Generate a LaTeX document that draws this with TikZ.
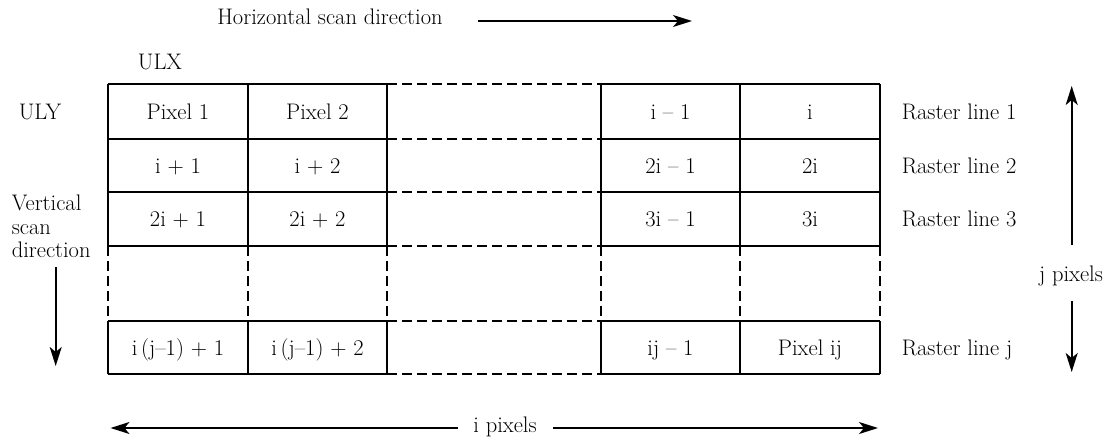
\documentclass[tikz,border=0pt]{standalone}
\usetikzlibrary{arrows.meta}
\begin{document}
\begin{tikzpicture}[x=1pt,y=-1pt, line width=1.6pt,
  every node/.style={font=\fontsize{22.5}{23.5}\selectfont, inner sep=0pt},
  cell/.style={anchor=base},
  lbl/.style={anchor=base west},
  dashline/.style={dash pattern=on 10pt off 5pt},
  arr/.style={-{Stealth[length=19pt,width=12pt,inset=5pt]}}]
\useasboundingbox (0,0) rectangle (1111,439);
% grid
\foreach \y in {84,139,192,246,321,374} {
  \draw (108,\y) -- (387,\y);
  \draw[dashline] (387,\y) -- (601,\y);
  \draw (601,\y) -- (880,\y);
}
\foreach \x in {108,248,387,601,740,880} {
  \draw (\x,84) -- (\x,246);
  \draw[dashline] (\x,246) -- (\x,321);
  \draw (\x,321) -- (\x,374);
}
% cells
\node[cell] (c11) at (178,119) {Pixel 1};
\node[cell] (c12) at (317.5,119) {Pixel 2};
\node[cell] (c14) at (670.5,119) {i \textendash\ 1};
\node[cell] (c15) at (810,119) {i};
\node[cell] (c21) at (178,173) {i + 1};
\node[cell] (c22) at (317.5,173) {i + 2};
\node[cell] (c24) at (670.5,173) {2i \textendash\ 1};
\node[cell] (c25) at (810,173) {2i};
\node[cell] (c31) at (178,226.5) {2i + 1};
\node[cell] (c32) at (317.5,226.5) {2i + 2};
\node[cell] (c34) at (670.5,226.5) {3i \textendash\ 1};
\node[cell] (c35) at (810,226.5) {3i};
\node[cell] (c51) at (178,355) {i\,(j\textendash1) + 1};
\node[cell] (c52) at (317.5,355) {i\,(j\textendash1) + 2};
\node[cell] (c54) at (670.5,355) {ij \textendash\ 1};
\node[cell] (c55) at (810,355) {Pixel ij};
% labels
\node[cell] (ulx) at (160,69) {ULX};
\node[cell] (uly) at (40,119) {ULY};
\node[lbl] (r1) at (901,119) {Raster line 1};
\node[lbl] (r2) at (901,173) {Raster line 2};
\node[lbl] (r3) at (901,226.5) {Raster line 3};
\node[lbl] (rj) at (901,355) {Raster line j};
\node[cell] (hsd) at (330,24) {Horizontal scan direction};
\node[lbl, align=left] (vsd) at (11,257.5) {Vertical\\scan\\direction};
\node[cell] (jpx) at (1071,281) {j pixels};
\node[cell] (ipx) at (505,432) {i pixels};
% arrows
\coordinate (h1) at (478,21);
\coordinate (h2) at (692,21);
\draw[arr] (h1) -- (h2);
\coordinate (v1) at (55.7,267);
\coordinate (v2) at (55.7,366);
\draw[arr] (v1) -- (v2);
\coordinate (ju1) at (1071.7,245);
\coordinate (ju2) at (1071.7,86);
\coordinate (jd1) at (1071.7,301);
\coordinate (jd2) at (1071.7,372);
\draw[arr] (ju1) -- (ju2);
\draw[arr] (jd1) -- (jd2);
\coordinate (il1) at (458,428);
\coordinate (il2) at (110.5,428);
\coordinate (ir1) at (553,428);
\coordinate (ir2) at (878,428);
\draw[arr] (il1) -- (il2);
\draw[arr] (ir1) -- (ir2);
\end{tikzpicture}
\end{document}
